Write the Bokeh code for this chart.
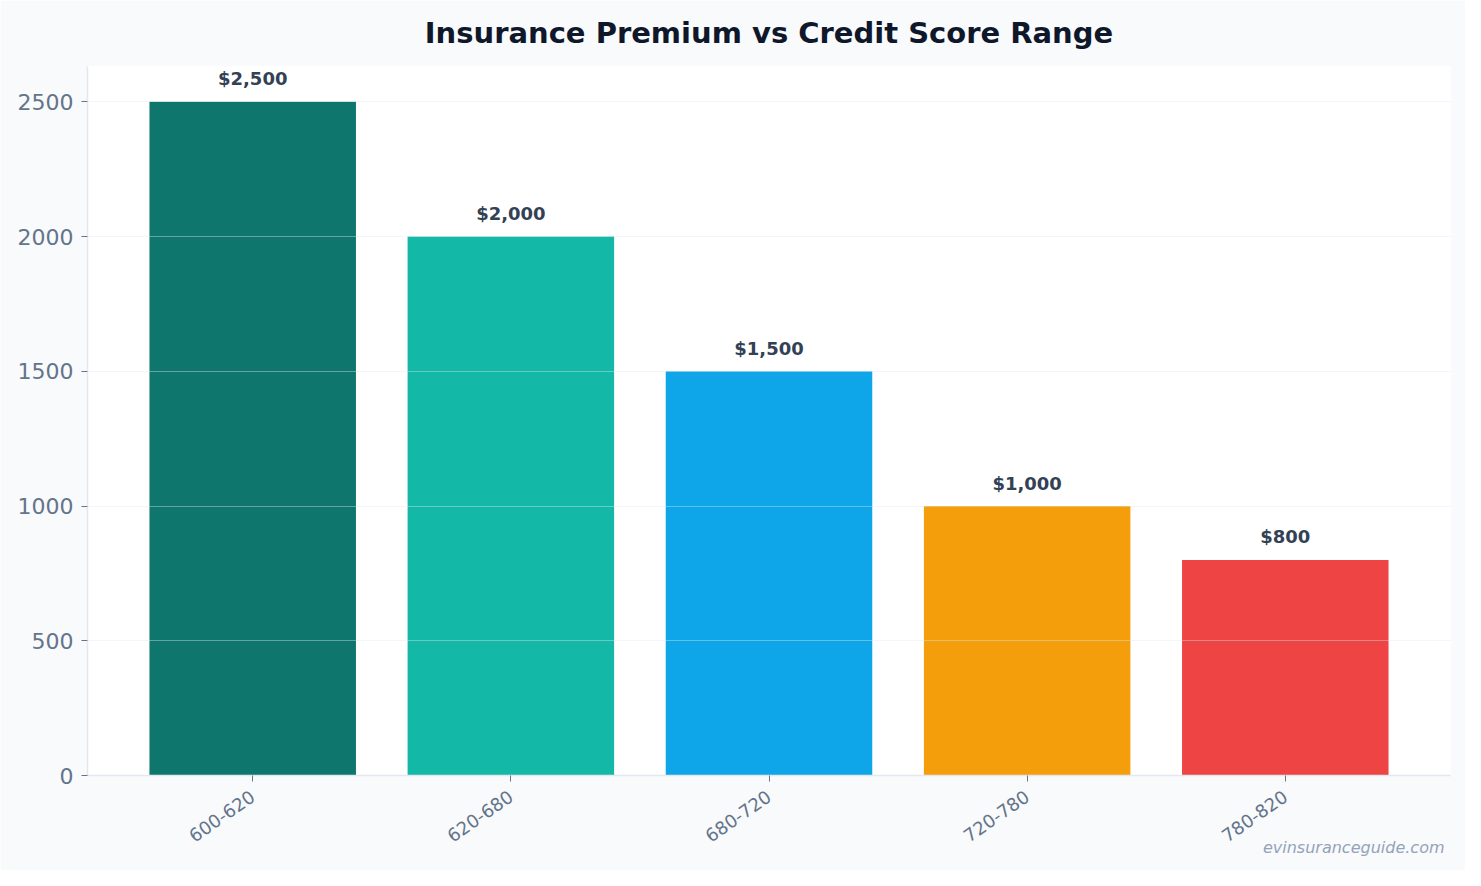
from bokeh.plotting import figure
from bokeh.models import Range1d, FixedTicker, Title, ColumnDataSource
from bokeh.core.properties import value
from bokeh.embed import file_html
from bokeh.resources import INLINE

# ---- data ----
categories = ["600-620", "620-680", "680-720", "720-780", "780-820"]
premiums = [2500, 2000, 1500, 1000, 800]
bar_colors = ["#0f766e", "#14b8a6", "#0ea5e9", "#f59e0b", "#ef4444"]
y_ticks = [0, 500, 1000, 1500, 2000, 2500]
title_text = "Insurance Premium vs Credit Score Range"
watermark = "evinsuranceguide.com"

FONT = "DejaVu Sans"
xs = list(range(len(categories)))
labels = ["${:,}".format(v) for v in premiums]
src = ColumnDataSource(dict(x=xs, top=premiums, color=bar_colors, label=labels))

X0, X1 = -0.64, len(categories) - 1 + 0.64
Y0, Y1 = 0, 2631

p = figure(width=1465, height=870, output_backend="svg", toolbar_location=None,
           x_range=Range1d(X0, X1), y_range=Range1d(Y0, Y1),
           min_border_left=87, min_border_right=15, min_border_top=66, min_border_bottom=95)

p.background_fill_color = "white"
p.border_fill_color = "#f8fafc"
p.outline_line_color = None

p.title.text = title_text
p.title.align = "center"
p.title.vertical_align = "top"
p.title.text_font = FONT
p.title.text_font_size = "29px"
p.title.text_font_style = "bold"
p.title.text_color = "#0f172a"
p.title.standoff = 30

p.vbar(x="x", top="top", width=0.8, color="color", line_color=None, source=src)

p.text(x="x", y="top", text="label", source=src, text_font=value(FONT),
       text_font_size="18px", text_font_style="bold", text_color="#334155",
       text_align="center", text_baseline="alphabetic", y_offset=-23)

# grid
p.xgrid.grid_line_color = None
p.ygrid.grid_line_color = "#e2e8f0"
p.ygrid.grid_line_alpha = 0.4
p.ygrid.level = "annotation"
p.ygrid.ticker = FixedTicker(ticks=y_ticks)

# axes
p.yaxis.ticker = FixedTicker(ticks=y_ticks)
p.xaxis.ticker = FixedTicker(ticks=xs)
p.xaxis.major_label_overrides = {i: c for i, c in zip(xs, categories)}
p.xaxis.major_label_orientation = 0.611

for ax in (p.xaxis, p.yaxis):
    ax.axis_line_color = "#e2e8f0"
    ax.axis_line_width = 1.5
    ax.major_tick_line_color = "#64748b"
    ax.major_tick_in = 0
    ax.major_tick_out = 6
    ax.minor_tick_line_color = None
    ax.major_label_text_font = FONT
    ax.major_label_text_color = "#64748b"
    ax.major_label_standoff = 8

p.yaxis.major_label_text_font_size = "22px"
p.xaxis.major_label_text_font_size = "18px"
p.xaxis.major_label_standoff = 13

p.add_layout(Title(text=watermark, align="right", vertical_align="top", text_font=FONT,
                   text_font_size="16px", text_font_style="italic", text_color="#94a3b8",
                   standoff=-28, offset=6),
             "below")

open("out.html", "w").write(file_html(p, INLINE))
